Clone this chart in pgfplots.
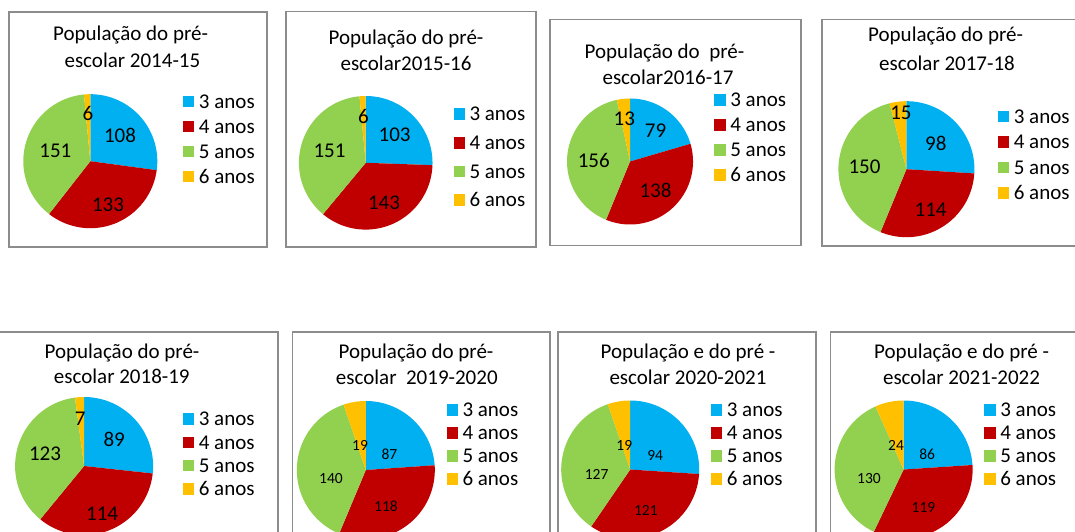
\documentclass[border=0pt]{standalone}
\usepackage{fontspec}
\setmainfont{Carlito}
\usepackage{pgfplots}
\pgfplotsset{compat=1.18}

\definecolor{c3}{HTML}{00B0F0}
\definecolor{c4}{HTML}{C00000}
\definecolor{c5}{HTML}{92D050}
\definecolor{c6}{HTML}{FFC000}
\definecolor{frame}{HTML}{8C8C8C}

\pgfplotsset{canvas/.style={
  at={(0pt,0pt)}, anchor=south west,
  scale only axis, width=1075pt, height=531pt,
  xmin=0, xmax=1075, ymin=-531, ymax=0,
  hide axis, clip=true,
  legend image code/.code={\fill[##1] (0pt,-5.75pt) rectangle (11.5pt,5.75pt); \path (16pt,0pt);},
  legend cell align=left,
  legend style={draw=none, fill=none, inner sep=0pt, outer sep=0pt, anchor=north west,
    column sep=0pt, font=\fontsize{21}{25}\selectfont,
    nodes={inner sep=0pt, text height=13.5pt, text depth=0pt}},
}}

% one slice of a pie: colour, start angle, end angle
\newcommand\slice[3]{%
  \edef\doslice{\noexpand\addplot[fill=#1, draw=none, domain=#2:#3, samples=72]
    ({\pcx+\pr*cos(x)}, {\pcy+\pr*sin(x)}) -- (axis cs:\pcx,\pcy) -- cycle;}%
  \doslice}
% pie: centre x, centre y (from top), radius, values for 3,4,5,6 anos
\newcommand\pie[7]{%
  \pgfmathsetmacro\pcx{#1}%
  \pgfmathsetmacro\pcy{-#2}%
  \pgfmathsetmacro\pr{#3}%
  \pgfmathsetmacro\ptot{#4+#5+#6+#7}%
  \pgfmathsetmacro\pa{90-360*(#4/\ptot)}%
  \pgfmathsetmacro\pb{\pa-360*(#5/\ptot)}%
  \pgfmathsetmacro\pc{\pb-360*(#6/\ptot)}%
  \slice{c3}{\pa}{90}\addlegendentry{3 anos}
  \slice{c4}{\pb}{\pa}\addlegendentry{4 anos}
  \slice{c5}{\pc}{\pb}\addlegendentry{5 anos}
  \slice{c6}{-270}{\pc}\addlegendentry{6 anos}
}
\newcommand\ttl[3]{\node[anchor=base, font=\fontsize{21}{25}\selectfont, inner sep=0pt] at (axis cs:#1,-#2) {#3};}
\newcommand\lab[4][21]{\node[font=\fontsize{#1}{#1}\selectfont, inner sep=0pt] at (axis cs:#2,-#3) {#4};}

\begin{document}
\begin{tikzpicture}
\useasboundingbox (0,0) rectangle (1075pt,531pt);
\fill[white] (0,0) rectangle (1075pt,531pt);
\clip (0,0) rectangle (1075pt,531pt);

% ---------- 2014-15
\begin{axis}[canvas, legend style={at={({183/1075},{1-95/531})}, row sep=11.5pt}]
\pie{90.3}{161.2}{67}{108}{133}{151}{6}
\draw[frame, line width=2pt] (axis cs:9,-12.3) rectangle (axis cs:267,-246.7);
\ttl{130.6}{40.5}{População do pré-}
\ttl{132.4}{68}{escolar 2014-15}
\lab{120}{135}{108}\lab{108}{205}{133}\lab{55.4}{151}{151}\lab{88}{113}{6}
\end{axis}

% ---------- 2015-16
\begin{axis}[canvas, legend style={at={({453.5/1075},{1-107.5/531})}, row sep=15.1pt}]
\pie{365.7}{162.8}{66.8}{103}{143}{151}{6}
\draw[frame, line width=1.3pt] (axis cs:286,-11.7) rectangle (axis cs:536,-247);
\ttl{406}{44.5}{População do pré-}
\ttl{406}{70.5}{escolar2015-16}
\lab{394.6}{135}{103}\lab{384}{202.7}{143}\lab{329.5}{150.7}{151}\lab{363.4}{116}{6}
\end{axis}

% ---------- 2016-17
\begin{axis}[canvas, legend style={at={({714.3/1075},{1-93.2/531})}, row sep=11.5pt}]
\pie{630}{161.5}{63}{79}{138}{156}{13}
\draw[frame, line width=1.3pt] (axis cs:550,-19.3) rectangle (axis cs:801,-245.7);
\ttl{664.5}{58.5}{População do~~pré-}
\ttl{668}{84.5}{escolar2016-17}
\lab{655.5}{131}{79}\lab{655.5}{190.7}{138}\lab{593.8}{160}{156}\lab{624.3}{118.3}{13}
\end{axis}

% ---------- 2017-18
\begin{axis}[canvas, legend style={at={({997.8/1075},{1-110/531})}, row sep=12pt}]
\pie{906.4}{169.2}{68}{98}{114}{150}{15}
\draw[frame, line width=1.3pt] (axis cs:822,-19.3) rectangle (axis cs:1090,-246);
\ttl{945.6}{42}{População do pré-}
\ttl{947}{70.5}{escolar 2017-18}
\lab{935.8}{143.3}{98}\lab{930.6}{209.3}{114}\lab{864.5}{166.7}{150}\lab{900.9}{113.3}{15}
\end{axis}

% ---------- 2018-19
\begin{axis}[canvas, legend style={at={({182.8/1075},{1-412.5/531})}, row sep=9.7pt}]
\pie{84.1}{466}{69}{89}{114}{123}{7}
\draw[frame, line width=1.3pt] (axis cs:-10,-332) rectangle (axis cs:278,-560);
\ttl{122}{358}{População do pré-}
\ttl{121.8}{383.7}{escolar 2018-19}
\lab{114.2}{439.3}{89}\lab{102.1}{513.3}{114}\lab{45}{454}{123}\lab{80.3}{418.3}{7}
\end{axis}

% ---------- 2019-2020
\begin{axis}[canvas, legend style={at={({446.5/1075},{1-403.2/531})}, row sep=9.6pt}]
\pie{365.8}{470}{69}{87}{118}{140}{19}
\draw[frame, line width=1.3pt] (axis cs:292.7,-332) rectangle (axis cs:550,-560);
\ttl{416}{358}{População do pré-}
\ttl{416.8}{384}{escolar~~2019-2020}
\lab[15.5]{389.4}{454.3}{87}\lab[15.5]{386}{506.7}{118}\lab[15.5]{331}{478.3}{140}\lab[15.5]{360}{445.7}{19}
\end{axis}

% ---------- 2020-2021
\begin{axis}[canvas, legend style={at={({710.8/1075},{1-403.2/531})}, row sep=9.6pt}]
\pie{630.2}{469.5}{69}{94}{121}{127}{19}
\draw[frame, line width=1.3pt] (axis cs:558,-332) rectangle (axis cs:816,-560);
\ttl{688}{358}{População e do pré -}
\ttl{688}{384}{escolar 2020-2021}
\lab[15.5]{655.1}{455}{94}\lab[15.5]{645.8}{510.7}{121}\lab[15.5]{596.6}{474}{127}\lab[15.5]{624.3}{445}{19}
\end{axis}

% ---------- 2021-2022
\begin{axis}[canvas, legend style={at={({984.3/1075},{1-403.2/531})}, row sep=9.6pt}]
\pie{903.6}{469.5}{69}{86}{119}{130}{24}
\draw[frame, line width=1.3pt] (axis cs:830.7,-332) rectangle (axis cs:1090,-560);
\ttl{961.6}{358}{População e do pré -}
\ttl{961.5}{384}{escolar 2021-2022}
\lab[15.5]{927.2}{454.3}{86}\lab[15.5]{923.4}{507.3}{119}\lab[15.5]{869}{478.3}{130}\lab[15.5]{896}{445.7}{24}
\end{axis}

\end{tikzpicture}
\end{document}
